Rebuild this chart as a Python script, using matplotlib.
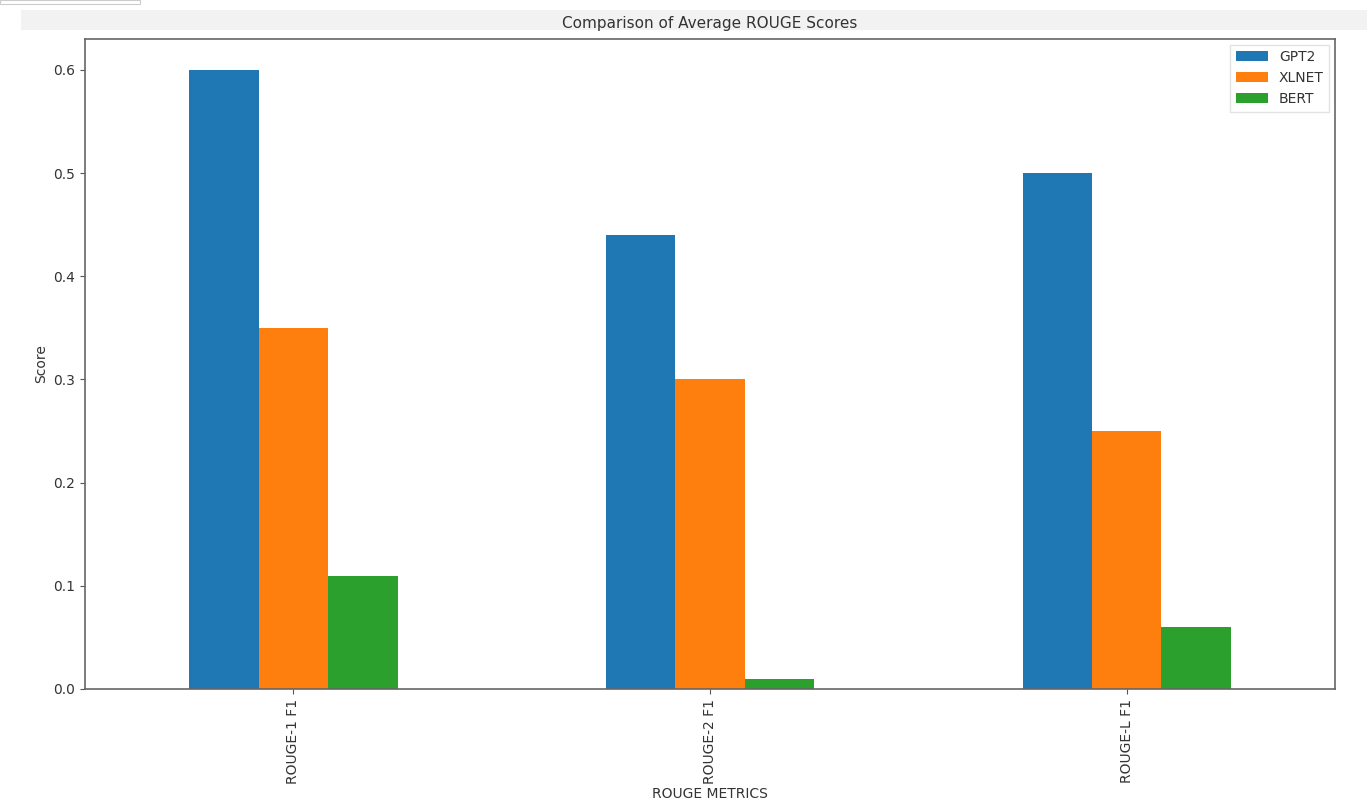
import matplotlib
matplotlib.use('Agg')
import matplotlib.pyplot as plt
from matplotlib.patches import Rectangle
import numpy as np

# values
metrics = ['ROUGE-1 F1', 'ROUGE-2 F1', 'ROUGE-L F1']
models = ['GPT2', 'XLNET', 'BERT']
gpt2 = [0.60, 0.44, 0.50]
xlnet = [0.35, 0.30, 0.25]
bert = [0.11, 0.01, 0.06]
colors = ['#1f77b4', '#ff7f0e', '#2ca02c']

plt.rcParams['font.family'] = 'DejaVu Sans'
plt.rcParams['text.color'] = '#333333'
plt.rcParams['axes.labelcolor'] = '#333333'
plt.rcParams['xtick.color'] = '#555555'
plt.rcParams['ytick.color'] = '#555555'
plt.rcParams['xtick.labelcolor'] = '#333333'
plt.rcParams['ytick.labelcolor'] = '#333333'

fig = plt.figure(figsize=(13.67, 8.11), dpi=100)

# the light grey notebook band behind the title
fig.patches.append(Rectangle((0.015, 1 - 30 / 811.), 0.985, 20 / 811.,
                             transform=fig.transFigure, facecolor='#f2f2f2',
                             edgecolor='none', zorder=-2))
fig.patches.append(Rectangle((0.0, 1 - 4 / 811.), 140 / 1367., 4 / 811.,
                             transform=fig.transFigure, facecolor='white',
                             edgecolor='#cccccc', lw=0.8, zorder=-2))

ax = fig.add_axes([85 / 1367., 1 - 689 / 811., 1250 / 1367., 650 / 811.])

x = np.arange(len(metrics))
width = 0.5 / 3
for i, (vals, name) in enumerate(zip([gpt2, xlnet, bert], models)):
    ax.bar(x + (i - 1) * width, vals, width, color=colors[i], label=name)

ax.set_xlim(-0.5, len(metrics) - 0.5)
ax.set_ylim(0, 0.63)
ax.set_xticks(x)
ax.set_xticklabels(metrics, rotation=90)
ax.set_yticks([0.0, 0.1, 0.2, 0.3, 0.4, 0.5, 0.6])

for sp in ax.spines.values():
    sp.set_color('#666666')
    sp.set_linewidth(1.2)

ax.set_title('Comparison of Average ROUGE Scores', fontsize=11, pad=8)
ax.set_xlabel('ROUGE METRICS', labelpad=2)
ax.set_ylabel('Score')
ax.legend(loc='upper right', fancybox=False, edgecolor='#dddddd',
          handlelength=2.3, borderaxespad=0.4)

plt.savefig('out.png', dpi=100)
